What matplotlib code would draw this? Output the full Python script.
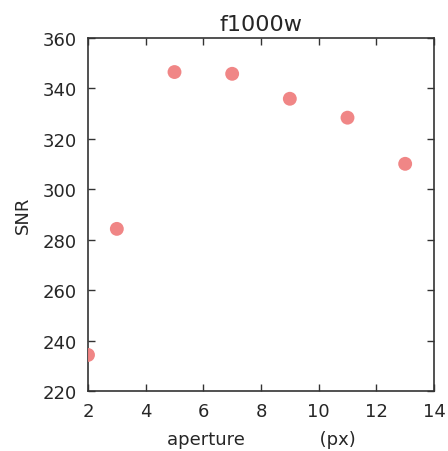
import numpy as np
import matplotlib
matplotlib.use('Agg')
import matplotlib.pyplot as plt

# Datos
aperture = [2, 3, 5, 7, 9, 11, 13]
snr = [234.3, 284.3, 346.5, 345.8, 335.9, 328.4, 310.1]
x_ticks = [2, 4, 6, 8, 10, 12, 14]
y_ticks = [220, 240, 260, 280, 300, 320, 340, 360]

fig = plt.figure(figsize=(4.48, 4.52), dpi=100)
ax = fig.add_axes([88 / 448, 60 / 452, 346 / 448, 353 / 452])

ax.scatter(aperture, snr, s=100, color='#f08080', edgecolors='none', alpha=0.95, zorder=3)

ax.set_xlim(2, 14)
ax.set_ylim(220, 360)
ax.set_xticks(x_ticks)
ax.set_yticks(y_ticks)
ax.tick_params(direction='in', top=True, right=True, length=5, width=1,
               labelsize=13, colors='#333333', labelcolor='#262626', pad=8)
for s in ax.spines.values():
    s.set_color('#333333')
    s.set_linewidth(1.2)

ax.set_title('f1000w', fontsize=16, color='#262626', pad=6)
ax.set_xlabel('aperture             (px)', fontsize=13, color='#262626', labelpad=7)
ax.set_ylabel('SNR', fontsize=13, color='#262626', labelpad=8)

fig.savefig('out.png', dpi=100)
